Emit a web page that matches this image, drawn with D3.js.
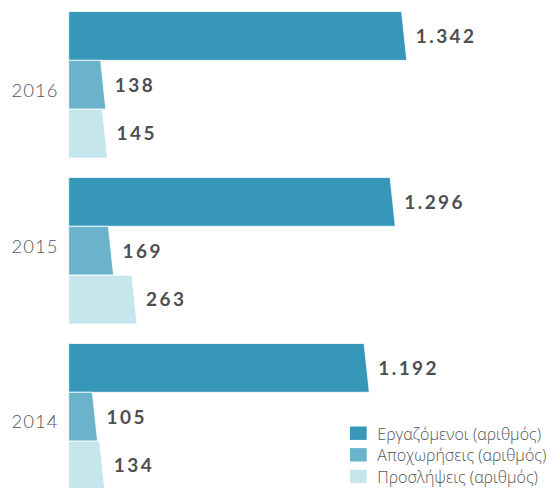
<!DOCTYPE html>
<html>
<head>
<meta charset="utf-8">
<script src="https://cdn.jsdelivr.net/npm/d3@7"></script>
<style>
  html, body { margin: 0; padding: 0; background: #fff; }
  svg { display: block; }
</style>
</head>
<body>
<svg id="chart" width="556" height="488"></svg>
<script>
// Staff figures per year (top to bottom: 2016, 2015, 2014)
const years = ["2016", "2015", "2014"];
const seriesNames = ["Εργαζόμενοι (αριθμός)", "Αποχωρήσεις (αριθμός)", "Προσλήψεις (αριθμός)"];
const employees   = [1342, 1296, 1192];
const departures  = [138, 169, 105];
const hires       = [145, 263, 134];

const colors = ["#3797b8", "#6bb2cb", "#c5e6ec"];
const seriesValues = [employees, departures, hires];

// Greek thousands separator
const fmt = v => v >= 1000 ? d3.format(",")(v).replace(",", ".") : String(v);

const svg = d3.select("#chart");

const x = d3.scaleLinear().domain([0, 2000]).range([68.7, 568.7]);
const yGroup = d3.scaleBand().domain(years).range([11.5, 490]).paddingInner(0.117);
const ySeries = d3.scaleBand().domain(d3.range(seriesNames.length)).range([0, yGroup.bandwidth()]);

const slant = 2.6; // bars end in a slanted edge around the value
const rows = [];
years.forEach((yr, gi) => {
  seriesValues.forEach((vals, si) => {
    rows.push({ year: yr, series: si, value: vals[gi] });
  });
});

const g = svg.append("g");

g.selectAll("path.bar")
  .data(rows)
  .join("path")
  .attr("class", "bar")
  .attr("fill", d => colors[d.series])
  .attr("stroke", "#fff")
  .attr("stroke-width", 0.8)
  .attr("d", d => {
    const y0 = yGroup(d.year) + ySeries(d.series);
    const y1 = y0 + ySeries.bandwidth();
    const x0 = x(0), xv = x(d.value);
    return `M${x0},${y0}L${xv - slant},${y0}L${xv + slant},${y1}L${x0},${y1}Z`;
  });

// value labels
g.selectAll("text.val")
  .data(rows)
  .join("text")
  .attr("class", "val")
  .attr("x", d => x(d.value) + slant + 9)
  .attr("y", d => yGroup(d.year) + ySeries(d.series) + ySeries.bandwidth() / 2)
  .attr("dy", "0.36em")
  .attr("font-family", "Lato, 'Open Sans', sans-serif")
  .attr("font-weight", 700)
  .attr("font-size", 19)
  .attr("letter-spacing", "2.4px")
  .attr("fill", "#4f4f51")
  .text(d => fmt(d.value));

// year labels, set beside the middle bar of each group
const yearShift = { "2016": 12.5, "2015": 1.8, "2014": 11.3 };
g.selectAll("text.year")
  .data(years)
  .join("text")
  .attr("class", "year")
  .attr("x", 58.5)
  .attr("y", d => yGroup(d) + ySeries(1) + ySeries.bandwidth() / 2 + yearShift[d])
  .attr("text-anchor", "end")
  .attr("font-family", "Lato, 'Open Sans', sans-serif")
  .attr("font-weight", 300)
  .attr("font-size", 18.5)
  .attr("letter-spacing", "1px")
  .attr("fill", "#555")
  .text(d => d);

// legend
const legend = svg.append("g").attr("transform", "translate(350,426.5)");
const li = legend.selectAll("g")
  .data(seriesNames)
  .join("g")
  .attr("transform", (d, i) => `translate(0,${i * 21.6})`);
li.append("rect")
  .attr("width", 16.7)
  .attr("height", 13.4)
  .attr("fill", (d, i) => colors[i]);
li.append("text")
  .attr("x", 27.3)
  .attr("y", 13.2)
  .attr("font-family", "'Open Sans', sans-serif")
  .attr("font-weight", 300)
  .attr("font-size", 16)
  .attr("fill", "#555")
  .text(d => d);
</script>
</body>
</html>
